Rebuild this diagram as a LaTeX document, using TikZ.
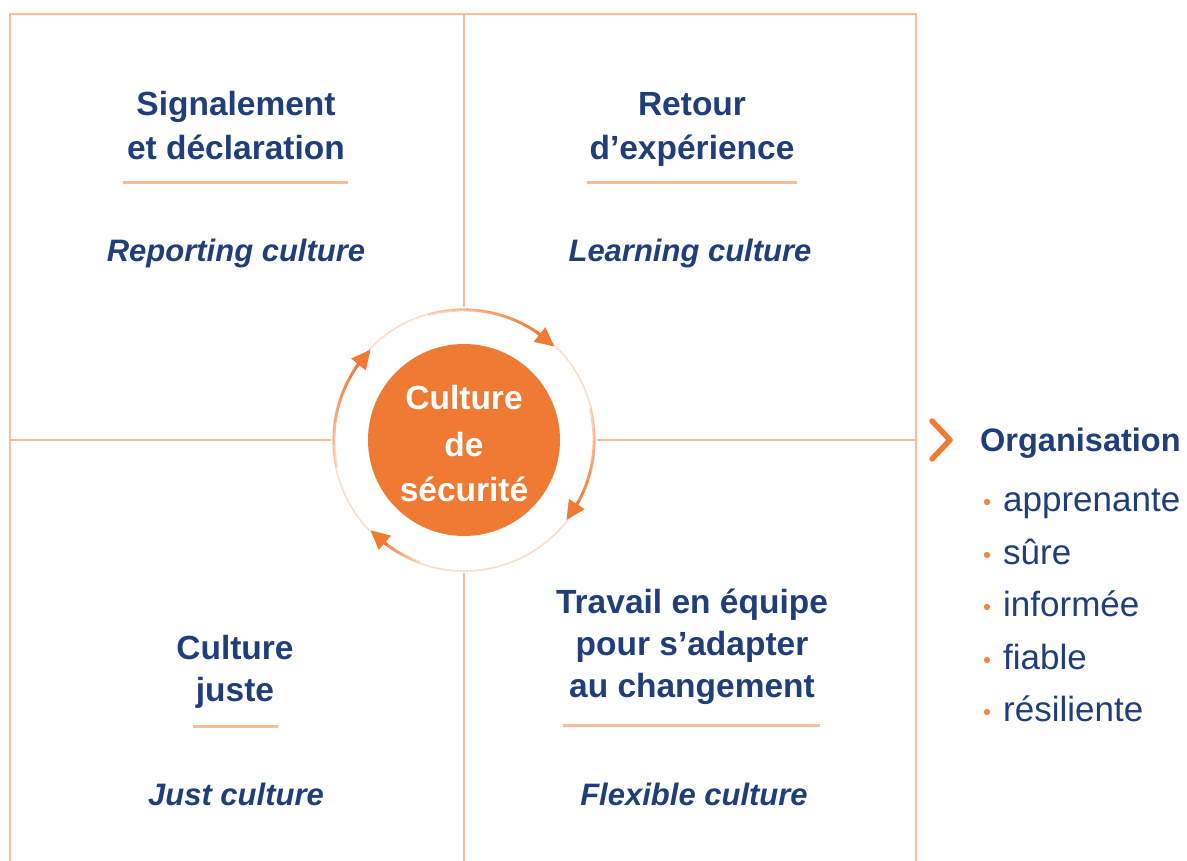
\documentclass[tikz,border=0pt]{standalone}
\usepackage{fontspec}
\setmainfont{Liberation Sans}
\usetikzlibrary{arrows.meta,calc}
\definecolor{navy}{HTML}{1F3E7A}
\definecolor{corange}{HTML}{EE7A33}
\definecolor{peach}{HTML}{F6BE96}
\begin{document}
\begin{tikzpicture}[x=1pt,y=1pt,
  head/.style={anchor=base, inner sep=0, text=navy, font=\fontsize{33.5}{40}\selectfont\bfseries},
  sub/.style={anchor=base, inner sep=0, text=navy, font=\fontsize{31}{38}\selectfont\bfseries\itshape},
  ctext/.style={anchor=base, inner sep=0, text=white, font=\fontsize{33.5}{40}\selectfont\bfseries},
  orgtitle/.style={anchor=base west, inner sep=0, text=navy, font=\fontsize{32.5}{40}\selectfont\bfseries},
  item/.style={anchor=base west, inner sep=0, text=navy, font=\fontsize{35}{40}\selectfont},
  frame/.style={draw=peach, line width=2pt},
  uline/.style={draw=peach, line width=3pt},
  cyc/.style={draw=corange, line width=2.8pt},
  tipline/.style={draw=corange, line width=2.8pt, -{Triangle[length=19pt,width=18pt]}},
]
\useasboundingbox (0,0) rectangle (1187,861);
% frame and cross
\draw[frame] (10,0) -- (10,847) -- (916,847) -- (916,0);
\draw[frame] (464,847) -- (464,0);
\draw[frame] (10,421) -- (916,421);
% centre ring
\coordinate (c) at (464,421);
\fill[white] (c) circle (133);
\draw[peach!50, line width=1.6pt] (c) circle (131);
\foreach \a/\b in {106/46, 14/-38, -110/-136, -168/-224} {
  \foreach \i in {0,...,9} {
    \pgfmathsetmacro\s{\a+(\b+6-\a)*\i/10}
    \pgfmathsetmacro\e{\a+(\b+6-\a)*(\i+1)/10}
    \pgfmathsetmacro\o{0.15+0.85*(\i+1)/10}
    \draw[cyc, draw opacity=\o] ($(c)+(\s:130)$) arc[start angle=\s, end angle=\e, radius=130];
  }
  \draw[tipline] ($(c)+(\b+10:130)$) -- ($(c)+(\b:130)$);
}
\node[circle, fill=corange, minimum size=192pt, inner sep=0] (core) at (c) {};
\node[ctext] (c1) at (464,451) {Culture};
\node[ctext] (c2) at (464,404) {de};
\node[ctext] (c3) at (464,359) {sécurité};
% top left
\node[head] (tl1) at (236,745) {Signalement};
\node[head] (tl2) at (236,701) {et déclaration};
\draw[uline] (123,678) -- (348,678);
\node[sub] (tl3) at (236,599) {Reporting culture};
% top right
\node[head] (tr1) at (692,745) {Retour};
\node[head] (tr2) at (692,701) {d’expérience};
\draw[uline] (587,678) -- (797,678);
\node[sub] (tr3) at (690,599) {Learning culture};
% bottom left
\node[head] (bl1) at (235,201) {Culture};
\node[head] (bl2) at (235,159) {juste};
\draw[uline] (193,134) -- (278,134);
\node[sub] (bl3) at (236,55) {Just culture};
% bottom right
\node[head] (br1) at (692,247) {Travail en équipe};
\node[head] (br2) at (692,205) {pour s’adapter};
\node[head] (br3) at (692,163) {au changement};
\draw[uline] (563,135) -- (820,135);
\node[sub] (br4) at (694,55) {Flexible culture};
% right list
\draw[corange, line width=5.5pt, line cap=round, line join=round] (932,440) -- (950,421) -- (932,402);
\node[orgtitle] (org) at (980,409) {Organisation};
\foreach \y/\t [count=\k] in {349/apprenante, 296/sûre, 244/informée, 191/fiable, 139/résiliente} {
  \fill[corange!90] (987,\y+10) circle (3.2);
  \node[item] (it\k) at (1003,\y) {\t};
}
\end{tikzpicture}
\end{document}
